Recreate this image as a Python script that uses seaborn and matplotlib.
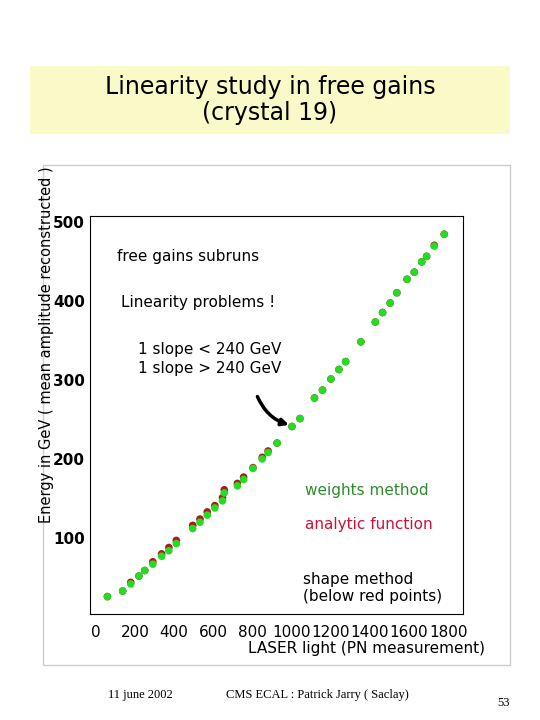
import numpy as np
import pandas as pd
import matplotlib.pyplot as plt
import seaborn as sns
from matplotlib.patches import Rectangle

# 数据
laser = [59, 137, 178, 220, 250, 291, 336, 373, 411, 495, 532, 569, 608, 647, 656,
         723, 755, 803, 850, 880, 926, 1002, 1043, 1117, 1158, 1201, 1242, 1276, 1354,
         1428, 1465, 1504, 1538, 1590, 1627, 1665, 1690, 1729, 1780]
weights = [26, 33, 42, 52, 59, 67, 77, 84, 93, 112, 120, 129, 138, 147, 157,
           166, 174, 188, 200, 208, 220, 241, 251, 277, 287, 301, 313, 323, 348,
           373, 385, 397, 410, 427, 436, 449, 456, 469, 484]
red_shift = [0, 0, 2, 0, 0, 3, 3, 4, 4, 4, 4, 4, 3, 4, 4,
             3, 3, 1, 2, 2, 0, 0, 0, 0, 0, 0, 0, 0, 0,
             0, 0, 0, 0, 0, 0, 0, 0, 1, 0]
analytic = [w + d for w, d in zip(weights, red_shift)]

df = pd.DataFrame({'laser': laser, 'weights': weights, 'analytic': analytic})

sns.set_style('white')
plt.rcParams['font.family'] = ['DejaVu Sans']
plt.rcParams['text.color'] = 'black'
plt.rcParams['xtick.color'] = 'black'
plt.rcParams['ytick.color'] = 'black'
fig = plt.figure(figsize=(5.4, 7.2), dpi=100)

# 标题框
fig.patches.append(Rectangle((30/540, 1-134/720), 480/540, 68/720, transform=fig.transFigure,
                             facecolor='#fafac8', edgecolor='none'))
fig.text(270/540, 1-100/720, 'Linearity study in free gains\n(crystal 19)', ha='center', va='center',
         fontsize=17, linespacing=1.1)
# 面板
fig.patches.append(Rectangle((43/540, 1-665/720), 467/540, 500/720, transform=fig.transFigure,
                             facecolor='white', edgecolor='#cccccc', lw=1, zorder=0))

ax = fig.add_axes([90/540, 1-614/720, 373/540, 398/720])
ax.set_zorder(5)
sns.scatterplot(data=df, x='laser', y='analytic', color='#b01818', s=30, edgecolor='none', ax=ax, zorder=2)
sns.scatterplot(data=df, x='laser', y='weights', color='#22dd22', s=30, edgecolor='none', ax=ax, zorder=3)
ax.set_xlim(-30, 1876)
ax.set_ylim(4, 507)
ax.set_xticks(range(0, 1801, 200))
ax.set_xticks(range(0, 1851, 50), minor=True)
ax.set_yticks(range(100, 501, 100))
ax.set_yticks(range(20, 507, 20), minor=True)
ax.tick_params(direction='in', which='major', length=8, labelsize=11)
ax.tick_params(direction='in', which='minor', length=4)
ax.tick_params(axis='x', pad=8)
for lab in ax.get_yticklabels():
    lab.set_fontweight('bold')
ax.set_xlabel('')
ax.set_ylabel('')
for s in ax.spines.values():
    s.set_color('black')
    s.set_linewidth(0.8)

fig.text(485/540, 1-648/720, 'LASER light (PN measurement)', ha='right', va='center', fontsize=11)
fig.text(47/540, 1-345/720, 'Energy in GeV ( mean amplitude reconstructed )', rotation=90,
         ha='center', va='center', fontsize=10.5)

ax.text(110, 450, 'free gains subruns', fontsize=11)
ax.text(130, 392, 'Linearity problems !', fontsize=11)
ax.text(580, 305, '1 slope < 240 GeV\n1 slope > 240 GeV', fontsize=11, ha='center', va='bottom',
        linespacing=1.3)
ax.annotate('', xy=(1000, 242), xytext=(820, 282),
            arrowprops=dict(arrowstyle='-|>', color='black', lw=2.5, connectionstyle='arc3,rad=0.25'))
ax.text(1070, 155, 'weights method', color='#2e8b2e', fontsize=11)
ax.text(1070, 112, 'analytic function', color='#d0103a', fontsize=11)
ax.text(1060, 20, 'shape method\n(below red points)', fontsize=11, linespacing=1.2)

fig.text(140/540, 1-695/720, '11 june 2002', ha='center', va='center', fontsize=9, family='Liberation Serif')
fig.text(317/540, 1-695/720, 'CMS ECAL : Patrick Jarry ( Saclay)', ha='center', va='center', fontsize=9,
         family='Liberation Serif')
fig.text(503/540, 1-703/720, '53', ha='center', va='center', fontsize=9, family='Liberation Serif')

fig.savefig('out.png', dpi=100)
